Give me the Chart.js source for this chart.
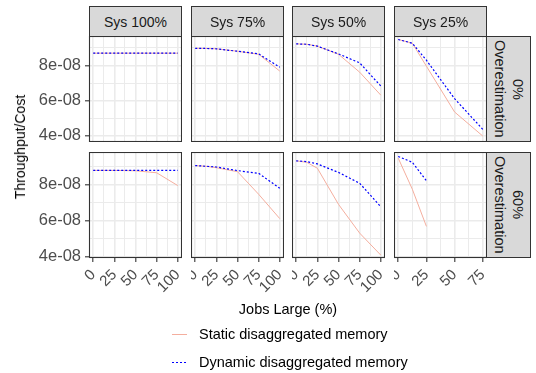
<!DOCTYPE html>
<html>
<head>
<meta charset="utf-8">
<script src="https://cdn.jsdelivr.net/npm/chart.js@4.4.0/dist/chart.umd.min.js"></script>
<style>
  body { margin: 0; background: #fff; font-family: "Liberation Sans", Arial, sans-serif; }
  #wrap { position: relative; width: 536px; height: 373px; overflow: hidden; }
  #wrap canvas, .strip, .txt, .key { position: absolute; }
  .strip { box-sizing: border-box; background: #d9d9d9; border: 1px solid #333; color: #1a1a1a;
           font-size: 14px; display: flex; align-items: center; justify-content: center; }
  .strip.side { writing-mode: vertical-rl; text-align: center; line-height: 18px; font-size: 14.5px; }
  .txt { color: #000; font-size: 14.5px; line-height: 16px; white-space: nowrap; }
  .key { width: 15px; height: 1px; }
</style>
</head>
<body>
<div id="wrap"></div>
<script>
// facets
const systems = ['Sys 100%', 'Sys 75%', 'Sys 50%', 'Sys 25%'];
const overestimation = ['0%', '60%'];

// x values (Jobs Large %) and the x extent of each column
const jobsLarge = [0, 12.5, 25, 50, 75, 100];
const xLimits = [[-5, 105], [-5, 105], [-5, 105], [-3.75, 78.75]];

// y extent of each row (free scales)
const yLimits = [[3.64e-8, 9.68e-8], [3.93e-8, 9.80e-8]];

// ticks
const xMajorTicks = [0, 25, 50, 75, 100];
const xMinorTicks = [12.5, 37.5, 62.5, 87.5];
const yMajorTicks = [4e-8, 6e-8, 8e-8];
const yTickLabels = ['4e-08', '6e-08', '8e-08'];
const yMinorTicks = [5e-8, 7e-8, 9e-8];

// 0% overestimation, one row per system
const staticOver0 = [
  [8.70e-8, 8.70e-8, 8.70e-8, 8.70e-8, 8.70e-8, 8.70e-8],
  [8.98e-8, 8.97e-8, 8.95e-8, 8.81e-8, 8.64e-8, 7.68e-8],
  [9.23e-8, 9.21e-8, 9.10e-8, 8.64e-8, 7.62e-8, 6.31e-8],
  [9.48e-8, 9.27e-8, 7.96e-8, 5.35e-8, 3.98e-8, null]
];
const dynamicOver0 = [
  [8.70e-8, 8.70e-8, 8.70e-8, 8.70e-8, 8.70e-8, 8.70e-8],
  [8.98e-8, 8.97e-8, 8.95e-8, 8.81e-8, 8.66e-8, 7.90e-8],
  [9.23e-8, 9.21e-8, 9.10e-8, 8.66e-8, 8.15e-8, 6.83e-8],
  [9.48e-8, 9.27e-8, 8.30e-8, 6.11e-8, 4.36e-8, null]
];

// 60% overestimation
const staticOver60 = [
  [8.78e-8, 8.78e-8, 8.78e-8, 8.76e-8, 8.65e-8, 7.94e-8],
  [9.05e-8, 9.01e-8, 8.93e-8, 8.71e-8, 7.46e-8, 6.11e-8],
  [9.31e-8, 9.23e-8, 8.90e-8, 6.90e-8, 5.31e-8, 4.09e-8],
  [9.46e-8, 7.74e-8, 5.68e-8, null, null, null]
];
const dynamicOver60 = [
  [8.78e-8, 8.78e-8, 8.78e-8, 8.78e-8, 8.78e-8, 8.78e-8],
  [9.05e-8, 9.01e-8, 8.97e-8, 8.77e-8, 8.62e-8, 7.79e-8],
  [9.31e-8, 9.27e-8, 9.14e-8, 8.67e-8, 8.07e-8, 6.77e-8],
  [9.55e-8, 9.23e-8, 8.21e-8, null, null, null]
];

const staticRows = [staticOver0, staticOver60];
const dynamicRows = [dynamicOver0, dynamicOver60];

const staticColor = '#f4ae9e';
const dynamicColor = '#0000ff';

// layout (px)
const colLeft = [89, 191, 292, 394];
const rowTop = [36, 152];
const panelW = 93, panelH = 106;
const axisW = 89, axisH = 50;
const FONT = 'Liberation Sans';

const wrap = document.getElementById('wrap');

function near(a, b) { return Math.abs(a - b) < 1e-12; }
function isMajorX(v) { return xMajorTicks.some(t => near(t, v)); }
function isMajorY(v) { return yMajorTicks.some(t => near(t, v)); }
function yLabel(v) {
  const i = yMajorTicks.findIndex(t => near(t, v));
  return i >= 0 ? yTickLabels[i] : '';
}
function toPoints(arr) {
  return jobsLarge.map((x, i) => ({ x: x, y: arr[i] })).filter(p => p.y !== null);
}

const panelBorder = {
  id: 'panelBorder',
  afterDatasetsDraw(chart) {
    const { ctx, chartArea: a } = chart;
    ctx.save();
    ctx.strokeStyle = '#333';
    ctx.lineWidth = 1.1;
    ctx.strokeRect(a.left + 0.5, a.top + 0.5, a.right - a.left - 1, a.bottom - a.top - 1);
    ctx.restore();
  }
};

function zeroPad(s) {
  s.paddingLeft = 0; s.paddingRight = 0; s.paddingTop = 0; s.paddingBottom = 0;
}

systems.forEach((sys, c) => {
  overestimation.forEach((ov, r) => {
    const showY = c === 0;
    const showX = r === 1;
    const cv = document.createElement('canvas');
    cv.width = panelW + (showY ? axisW : 0);
    cv.height = panelH + (showX ? axisH : 0);
    cv.style.left = (showY ? colLeft[0] - axisW : colLeft[c]) + 'px';
    cv.style.top = rowTop[r] + 'px';
    wrap.appendChild(cv);

    const [xLo, xHi] = xLimits[c];
    const [yLo, yHi] = yLimits[r];

    new Chart(cv, {
      type: 'line',
      data: {
        datasets: [
          {
            label: 'Static disaggregated memory',
            data: toPoints(staticRows[r][c]),
            borderColor: staticColor,
            borderWidth: 1,
            pointRadius: 0,
            tension: 0,
            order: 1
          },
          {
            label: 'Dynamic disaggregated memory',
            data: toPoints(dynamicRows[r][c]),
            borderColor: dynamicColor,
            borderWidth: 1.2,
            borderDash: [2, 2],
            pointRadius: 0,
            tension: 0,
            order: 0
          }
        ]
      },
      options: {
        responsive: false,
        animation: false,
        devicePixelRatio: 1,
        layout: { padding: 0 },
        plugins: { legend: { display: false }, tooltip: { enabled: false } },
        scales: {
          x: {
            type: 'linear',
            min: xLo,
            max: xHi,
            afterBuildTicks: s => {
              s.ticks = xMajorTicks.concat(xMinorTicks)
                .filter(v => v >= xLo && v <= xHi)
                .sort((a, b) => a - b)
                .map(v => ({ value: v }));
            },
            afterFit: s => { s.height = showX ? axisH : 0; zeroPad(s); },
            border: { display: false },
            grid: {
              color: '#ebebeb',
              lineWidth: ctx => (ctx.tick && isMajorX(ctx.tick.value)) ? 1.6 : 1,
              drawTicks: showX,
              tickLength: 4,
              tickWidth: 1.1,
              tickColor: ctx => (ctx.tick && isMajorX(ctx.tick.value)) ? '#333' : 'rgba(0,0,0,0)'
            },
            ticks: {
              display: showX,
              autoSkip: false,
              minRotation: 45,
              maxRotation: 45,
              padding: 4,
              color: '#4d4d4d',
              font: { family: FONT, size: 15 },
              callback: v => isMajorX(v) ? String(v) : ''
            }
          },
          y: {
            min: yLo,
            max: yHi,
            afterBuildTicks: s => {
              s.ticks = yMajorTicks.concat(yMinorTicks)
                .filter(v => v >= yLo && v <= yHi)
                .sort((a, b) => a - b)
                .map(v => ({ value: v }));
            },
            afterFit: s => { s.width = showY ? axisW : 0; zeroPad(s); },
            border: { display: false },
            grid: {
              color: '#ebebeb',
              lineWidth: ctx => (ctx.tick && isMajorY(ctx.tick.value)) ? 1.6 : 1,
              drawTicks: showY,
              tickLength: 4,
              tickWidth: 1.1,
              tickColor: ctx => (ctx.tick && isMajorY(ctx.tick.value)) ? '#333' : 'rgba(0,0,0,0)'
            },
            ticks: {
              display: showY,
              autoSkip: false,
              padding: 4,
              color: '#4d4d4d',
              font: { family: FONT, size: 16.5 },
              callback: v => yLabel(v)
            }
          }
        }
      },
      plugins: [panelBorder]
    });
  });
});

// strips
systems.forEach((sys, c) => {
  const d = document.createElement('div');
  d.className = 'strip';
  d.style.left = colLeft[c] + 'px';
  d.style.top = '6px';
  d.style.width = panelW + 'px';
  d.style.height = (rowTop[0] - 6 + 1) + 'px';
  d.textContent = sys;
  wrap.appendChild(d);
});
overestimation.forEach((ov, r) => {
  const d = document.createElement('div');
  d.className = 'strip side';
  d.style.left = (colLeft[3] + panelW - 1) + 'px';
  d.style.top = rowTop[r] + 'px';
  d.style.width = '45px';
  d.style.height = panelH + 'px';
  d.innerHTML = ov + '<br>Overestimation';
  wrap.appendChild(d);
});

// axis titles
const xTitle = document.createElement('div');
xTitle.className = 'txt';
xTitle.textContent = 'Jobs Large (%)';
xTitle.style.left = '288px';
xTitle.style.top = '301px';
xTitle.style.transform = 'translateX(-50%)';
wrap.appendChild(xTitle);

const yTitle = document.createElement('div');
yTitle.className = 'txt';
yTitle.textContent = 'Throughput/Cost';
yTitle.style.left = '20px';
yTitle.style.top = '147px';
yTitle.style.fontSize = '14px';
yTitle.style.transform = 'translate(-50%, -50%) rotate(-90deg)';
wrap.appendChild(yTitle);

// legend
const legendItems = [
  { label: 'Static disaggregated memory', y: 334, bg: staticColor },
  { label: 'Dynamic disaggregated memory', y: 362,
    bg: 'repeating-linear-gradient(to right, ' + dynamicColor + ' 0 2px, transparent 2px 4px)' }
];
legendItems.forEach(it => {
  const k = document.createElement('div');
  k.className = 'key';
  k.style.left = '172px';
  k.style.top = it.y + 'px';
  k.style.background = it.bg;
  wrap.appendChild(k);
  const t = document.createElement('div');
  t.className = 'txt';
  t.style.left = '199px';
  t.style.top = (it.y - 8) + 'px';
  t.textContent = it.label;
  wrap.appendChild(t);
});
</script>
</body>
</html>
